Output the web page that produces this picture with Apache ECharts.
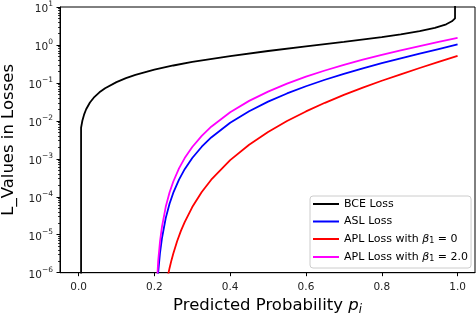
<!DOCTYPE html>
<html><head><meta charset="utf-8">
<script src="https://cdn.jsdelivr.net/npm/echarts@6/dist/echarts.min.js"></script>
<style>html,body{margin:0;padding:0;background:#fff}#c{width:476px;height:316px}</style>
</head><body><div id="c"></div>
<script>
// ---- data ----
const bceP = [0.0066, 0.0066, 0.01, 0.015, 0.02, 0.03, 0.04, 0.055, 0.07, 0.1, 0.125, 0.15, 0.2, 0.25, 0.3, 0.4, 0.5, 0.6, 0.7, 0.8, 0.85, 0.9, 0.94, 0.97, 0.985, 0.9933, 0.9933];
const bceL = [1e-12, 0.0066, 0.01005, 0.01511, 0.0202, 0.0305, 0.0408, 0.05657, 0.0726, 0.105, 0.1335, 0.1625, 0.223, 0.2877, 0.357, 0.511, 0.693, 0.916, 1.204, 1.609, 1.897, 2.303, 2.813, 3.507, 4.2, 5.0, 1000];

const aslP = [0.202, 0.205, 0.21, 0.215, 0.22, 0.23, 0.24, 0.25, 0.265, 0.28, 0.3, 0.325, 0.35, 0.4, 0.45, 0.5, 0.55, 0.6, 0.65, 0.7, 0.75, 0.8, 0.85, 0.9, 0.95, 1.0];
const aslL = [8.0e-9, 1.25e-7, 1.005e-6, 3.40e-6, 8.08e-6, 2.74e-5, 6.53e-5, 1.28e-4, 2.84e-4, 5.34e-4, 1.054e-3, 2.086e-3, 3.657e-3, 8.93e-3, 0.01798, 0.0321, 0.05277, 0.0817, 0.1211, 0.1733, 0.2416, 0.3299, 0.4435, 0.590, 0.7798, 1.030];

const apl2P = [0.202, 0.205, 0.21, 0.215, 0.22, 0.23, 0.24, 0.25, 0.265, 0.28, 0.3, 0.325, 0.35, 0.4, 0.45, 0.5, 0.55, 0.6, 0.65, 0.7, 0.75, 0.8, 0.85, 0.9, 0.95, 1.0];
const apl2L = [1.6e-8, 2.5e-7, 2.0e-6, 6.78e-6, 1.608e-5, 5.44e-5, 1.293e-4, 2.53e-4, 5.59e-4, 1.046e-3, 2.054e-3, 4.04e-3, 7.03e-3, 0.01693, 0.0336, 0.0591, 0.0956, 0.1457, 0.2122, 0.2983, 0.4079, 0.5459, 0.7182, 0.933, 1.2017, 1.542];

const apl0P = [0.23, 0.235, 0.24, 0.245, 0.25, 0.26, 0.27, 0.28, 0.3, 0.325, 0.35, 0.4, 0.45, 0.5, 0.55, 0.6, 0.65, 0.7, 0.75, 0.8, 0.85, 0.9, 0.95, 1.0];
const apl0L = [4.1e-7, 7.7e-7, 1.315e-6, 2.11e-6, 3.2e-6, 6.75e-6, 1.26e-5, 2.16e-5, 5.36e-5, 1.333e-4, 2.82e-4, 9.26e-4, 2.355e-3, 5.10e-3, 9.90e-3, 0.01773, 0.02993, 0.0483, 0.07517, 0.1139, 0.1689, 0.2469, 0.3579, 0.518];

const seriesNames = ['BCE Loss', 'ASL Loss', 'APL Loss with β1 = 0', 'APL Loss with β1 = 2.0'];
const seriesColors = ['#000000', '#0000ff', '#ff0000', '#ff00ff'];
const xTicks = [0.0, 0.2, 0.4, 0.6, 0.8, 1.0];
const yTicks = [1e-6, 1e-5, 1e-4, 1e-3, 1e-2, 1e-1, 1, 10];
const yMinorTicks = [];
for (let k = -6; k <= 0; k++) for (let m = 2; m <= 9; m++) yMinorTicks.push(+(m * Math.pow(10, k)).toPrecision(3));

const zip = (a, b) => a.map((v, i) => [v, b[i]]);
const font = 'DejaVu Sans';

const chart = echarts.init(document.getElementById('c'), null, {renderer: 'canvas'});
const mkLine = (name, color, p, l) => ({
  name, type: 'line', data: zip(p, l), showSymbol: false, symbol: 'none', smooth: false,
  lineStyle: {color, width: 1.8}, itemStyle: {color}, clip: true, animation: false
});

chart.setOption({
  animation: false,
  grid: {left: 60, right: 1, top: 7, bottom: 43.3, containLabel: false, outerBoundsMode: 'none',
    show: true, borderColor: '#000', borderWidth: 1, backgroundColor: 'transparent'},
  xAxis: {
    type: 'value', min: -0.049, max: 1.046,
    name: '{t|Predicted Probability }{p|p}{i|i}', nameLocation: 'middle', nameGap: 23,
    nameTextStyle: {rich: {
      t: {fontFamily: font, fontSize: 16.5, color: '#000'},
      p: {fontFamily: font, fontSize: 16.5, fontStyle: 'italic', color: '#000'},
      i: {fontFamily: font, fontSize: 11.5, fontStyle: 'italic', color: '#000', padding: [8, 0, 0, 0]}
    }},
    axisLine: {show: true, onZero: false, lineStyle: {color: '#000', width: 1}},
    axisTick: {show: true, length: 3.5, customValues: xTicks, lineStyle: {color: '#000'}},
    axisLabel: {customValues: xTicks, fontFamily: font, fontSize: 10.5, color: '#222', margin: 9,
      formatter: v => v.toFixed(1)},
    splitLine: {show: false}
  },
  yAxis: [{
    type: 'log', logBase: 10, min: 1e-6, max: 10,
    name: 'L_Values in Losses', nameLocation: 'middle', nameGap: 32,
    nameTextStyle: {fontFamily: font, fontSize: 16.5, color: '#000'},
    axisLine: {show: true, onZero: false, lineStyle: {color: '#000', width: 1}},
    axisTick: {show: true, length: 3.5, customValues: yTicks, lineStyle: {color: '#000'}},
    axisLabel: {customValues: yTicks, margin: 7, fontFamily: font, color: '#222',
      formatter: v => {
        const e = Math.round(Math.log10(v));
        return '{b|10}{s|' + (e < 0 ? '\u2212' : '') + Math.abs(e) + '}';
      },
      rich: {
        b: {fontFamily: font, fontSize: 10.5, color: '#222', padding: [5, 0, 0, 0]},
        s: {fontFamily: font, fontSize: 7.5, color: '#222', padding: [0, 0, 5, 0]}
      }
    },
    splitLine: {show: false}
  }, {
    type: 'log', logBase: 10, min: 1e-6, max: 10, position: 'left', offset: 0,
    axisLine: {show: false, onZero: false},
    axisTick: {show: true, length: 2, customValues: yMinorTicks, lineStyle: {color: '#000', width: 0.8}},
    axisLabel: {show: false},
    splitLine: {show: false}
  }],
  legend: {
    orient: 'vertical', left: 310, top: 196,
    data: seriesNames,
    icon: 'rect', itemWidth: 26, itemHeight: 2, itemGap: 6.5,
    padding: [2.5, 3, 5, 3],
    backgroundColor: '#fff', borderColor: '#ccc', borderWidth: 1, borderRadius: 3,
    formatter: name => {
      const m = name.match(/^APL Loss with β1 = (.*)$/);
      if (m) return '{t|APL Loss with }{g|β}{u|1}{t| = ' + m[1] + '}';
      return '{t|' + name + '}';
    },
    textStyle: {rich: {
      t: {fontFamily: font, fontSize: 11, color: '#000'},
      g: {fontFamily: font, fontSize: 11, fontStyle: 'italic', color: '#000'},
      u: {fontFamily: font, fontSize: 8, color: '#000', padding: [4, 0, 0, 0]}
    }}
  },
  series: [
    mkLine(seriesNames[0], seriesColors[0], bceP, bceL),
    mkLine(seriesNames[1], seriesColors[1], aslP, aslL),
    mkLine(seriesNames[2], seriesColors[2], apl0P, apl0L),
    mkLine(seriesNames[3], seriesColors[3], apl2P, apl2L)
  ]
});
</script></body></html>
